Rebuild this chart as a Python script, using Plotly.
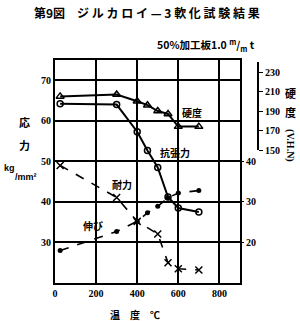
import plotly.graph_objects as go

# ---- data ----
temp_main = [25, 300, 400, 450, 500, 550, 600, 700]
hardness = [205, 207, 200, 196, 190, 187, 174, 174]          # V.H.N
tensile = [64.2, 64.0, 57.3, 52.7, 48.5, 41.2, 38.5, 37.5]    # kg/mm2
temp_proof = [25, 300, 400, 500, 550, 600, 700]
proof = [49.0, 41.1, 35.2, 32.1, 25.0, 23.5, 23.2]            # kg/mm2
temp_elong = [25, 300, 400, 450, 500, 550, 600, 700]
elongation = [18.0, 22.7, 25.2, 27.3, 28.9, 31.0, 32.2, 32.8]  # %

x_ticks = [0, 200, 400, 600, 800]
stress_ticks = [30, 40, 50, 60, 70]
elong_ticks = [20, 30, 40]
hard_ticks = [150, 170, 190, 210, 230]

NUM = dict(family="Liberation Serif", size=10, color="black", weight="bold")
CJK = "Noto Sans CJK JP"

fig = go.Figure()
fig.add_trace(go.Scatter(x=temp_main, y=tensile, mode="lines+markers",
                         line=dict(color="black", width=2),
                         marker=dict(symbol="circle-open", size=6, color="black", line=dict(width=1.5)),
                         yaxis="y", showlegend=False))
fig.add_trace(go.Scatter(x=temp_proof, y=proof, mode="lines+markers",
                         line=dict(color="black", width=1.6, dash="dash"),
                         marker=dict(symbol="x-thin", size=7, color="black", line=dict(width=1.5, color="black")),
                         yaxis="y", showlegend=False))
fig.add_trace(go.Scatter(x=temp_elong, y=elongation, mode="lines+markers",
                         line=dict(color="black", width=1.6, dash="dash"),
                         marker=dict(symbol="circle", size=5, color="black"),
                         yaxis="y2", showlegend=False))
fig.add_trace(go.Scatter(x=temp_main, y=hardness, mode="lines+markers",
                         line=dict(color="black", width=2),
                         marker=dict(symbol="triangle-up-open", size=7, color="black", line=dict(width=1.5)),
                         yaxis="y3", showlegend=False, cliponaxis=False))

fig.update_layout(
    width=300, height=321,
    margin=dict(l=55, r=42, t=60, b=38),
    paper_bgcolor="white", plot_bgcolor="rgba(0,0,0,0)",
    xaxis=dict(range=[0, 900], domain=[0, 0.911], tickvals=x_ticks,
               showgrid=True, gridcolor="black", gridwidth=1.8,
               showline=True, linecolor="black", linewidth=2, mirror=True,
               ticks="", tickfont=NUM, zeroline=False, anchor="y"),
    yaxis=dict(range=[20, 75], tickvals=stress_ticks,
               showgrid=True, gridcolor="black", gridwidth=1.5,
               showline=True, linecolor="black", linewidth=2, mirror=True,
               ticks="", tickfont=NUM, zeroline=False, anchor="x"),
    yaxis2=dict(range=[10, 65], tickvals=elong_ticks, overlaying="y", side="right",
                anchor="x", showgrid=False, showline=False, zeroline=False,
                ticks="outside", ticklen=3, tickcolor="black", tickfont=NUM),
    yaxis3=dict(range=[150, 240], domain=[0.5964, 0.9897], tickvals=hard_ticks,
                anchor="free", position=1.0, side="right",
                showgrid=False, zeroline=False, showline=True, linecolor="black", linewidth=2,
                ticks="outside", ticklen=4, tickcolor="black", tickfont=NUM),
)

ann = [
    dict(text="第9図　ジ ル カ ロ イ — 3 軟 化 試 験 結 果", x=0.453, y=1.215, xref="paper", yref="paper",
         font=dict(family=CJK, size=12, color="black", weight="bold")),
    dict(text="50%加工板1.0 <sup>m</sup>/<sub>m</sub> t", x=0.742, y=1.067, xref="paper", yref="paper",
         font=dict(family=CJK, size=10.5, color="black", weight="bold")),
    dict(text="応", x=-0.148, y=0.722, xref="paper", yref="paper",
         font=dict(family=CJK, size=11, color="black", weight="bold")),
    dict(text="力", x=-0.148, y=0.619, xref="paper", yref="paper",
         font=dict(family=CJK, size=11, color="black", weight="bold")),
    dict(text="kg", x=-0.222, y=0.516, xref="paper", yref="paper",
         font=dict(family="Liberation Sans", size=9, color="black", weight="bold")),
    dict(text="/mm²", x=-0.145, y=0.475, xref="paper", yref="paper",
         font=dict(family="Liberation Sans", size=9, color="black", weight="bold")),
    dict(text="硬", x=1.158, y=0.852, xref="paper", yref="paper",
         font=dict(family=CJK, size=11, color="black", weight="bold")),
    dict(text="度", x=1.158, y=0.767, xref="paper", yref="paper",
         font=dict(family=CJK, size=11, color="black", weight="bold")),
    dict(text="(V.H.N)", x=1.158, y=0.618, xref="paper", yref="paper", textangle=90,
         font=dict(family="Liberation Serif", size=10, color="black", weight="bold")),
    dict(text="温　度　℃", x=0.394, y=-0.143, xref="paper", yref="paper",
         font=dict(family=CJK, size=10, color="black", weight="bold")),
    dict(text="硬度", x=666, y=62.0, xref="x", yref="y",
         font=dict(family=CJK, size=10, color="black", weight="bold")),
    dict(text="抗張力", x=584, y=52.3, xref="x", yref="y",
         font=dict(family=CJK, size=10, color="black", weight="bold")),
    dict(text="耐力", x=326, y=44.2, xref="x", yref="y",
         font=dict(family=CJK, size=10, color="black", weight="bold")),
    dict(text="伸び", x=185, y=34.3, xref="x", yref="y",
         font=dict(family=CJK, size=10, color="black", weight="bold")),
]
for a in ann:
    a.setdefault("showarrow", False)
    a.setdefault("xanchor", "center")
    a.setdefault("yanchor", "middle")
    fig.add_annotation(**a)

fig.write_html("out.html")
